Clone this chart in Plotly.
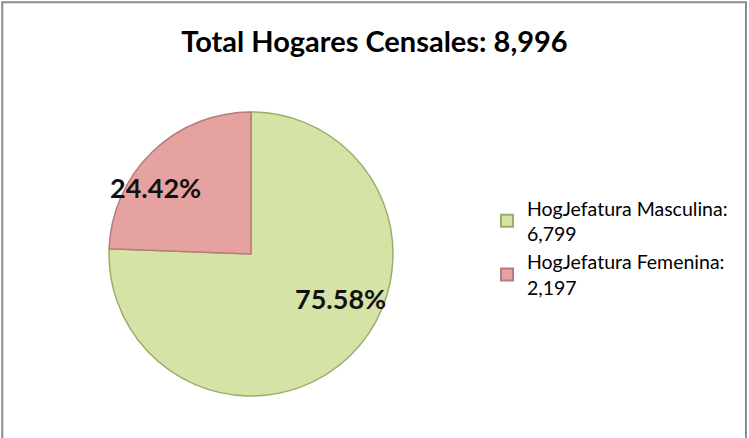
import plotly.graph_objects as go

labels = ["HogJefatura Masculina", "HogJefatura Femenina"]
values = [6799, 2197]
fill_colors = ["#D5E3A6", "#E6A2A0"]
edge_colors = ["#9AAE6A", "#B77C7A"]
title_text = "Total Hogares Censales"

total = sum(values)
legend_names = [f"{l}:<br>{v:,}" for l, v in zip(labels, values)]
pcts = [f"{v / total * 100:.2f}%" for v in values]

W, H = 749, 438
cx, cy, r = 251, 254, 142

fig = go.Figure(go.Pie(
    labels=legend_names,
    values=values,
    sort=False,
    direction="clockwise",
    rotation=0,
    textinfo="none",
    hoverinfo="label+percent",
    marker=dict(colors=fill_colors, line=dict(color=edge_colors, width=1.5)),
    domain=dict(x=[(cx - r) / W, (cx + r) / W], y=[(H - cy - r) / H, (H - cy + r) / H]),
))

fig.add_annotation(x=340 / W, y=1 - 298 / H, xref="paper", yref="paper", text=f"<b>{pcts[0]}</b>",
                   showarrow=False, font=dict(family="Lato", size=27, color="#111"),
                   xanchor="center", yanchor="middle")
fig.add_annotation(x=155 / W, y=1 - 187 / H, xref="paper", yref="paper", text=f"<b>{pcts[1]}</b>",
                   showarrow=False, font=dict(family="Lato", size=27, color="#111"),
                   xanchor="center", yanchor="middle")

fig.add_shape(type="rect", xref="paper", yref="paper", x0=0.003, x1=0.996, y0=-0.05, y1=0.995,
              line=dict(color="#8c8c8c", width=2))

fig.update_layout(
    width=W, height=H,
    margin=dict(l=0, r=0, t=0, b=0),
    paper_bgcolor="white",
    plot_bgcolor="white",
    title=dict(text=f"<b>{title_text}: {total:,}</b>", x=0.5, xanchor="center",
               y=1 - 42 / H, yanchor="middle",
               font=dict(family="Lato", size=29, color="#000")),
    legend=dict(x=487 / W, y=1 - 189 / H, xanchor="left", yanchor="top",
                font=dict(family="Lato", size=19.5, color="#000"),
                itemsizing="constant"),
    showlegend=True,
)

fig.write_html("out.html", config={"displayModeBar": False},
               post_script="document.body.style.margin='0';")
